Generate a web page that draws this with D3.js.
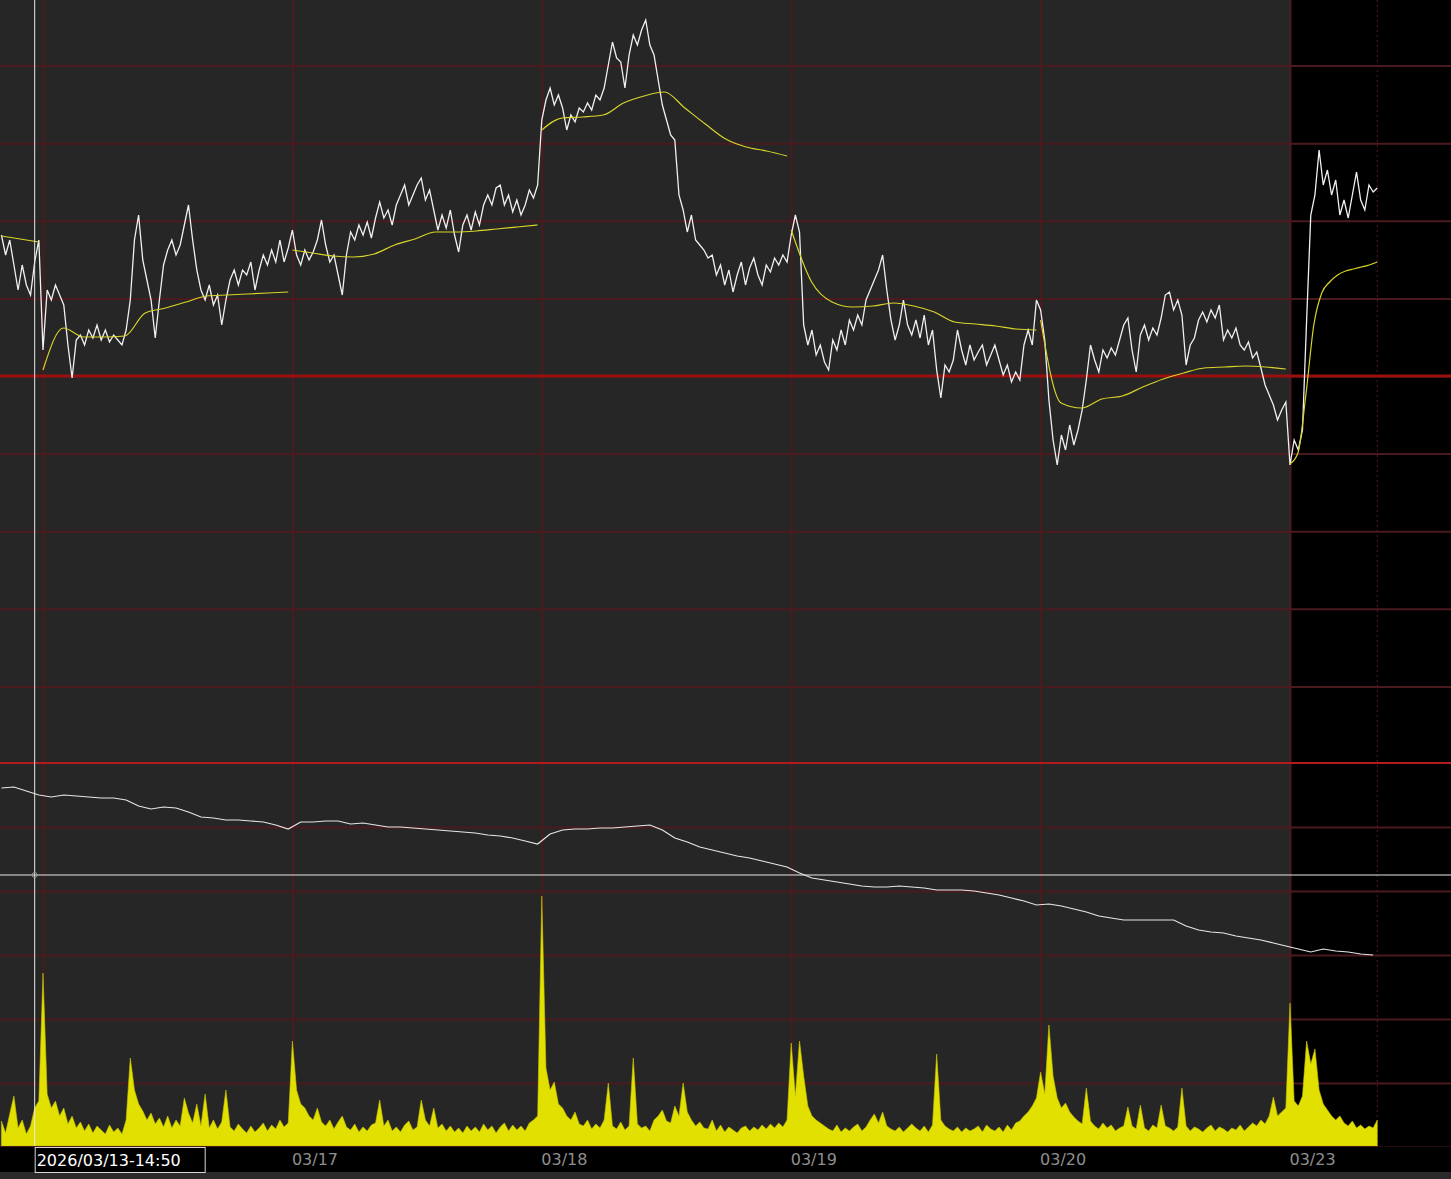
<!DOCTYPE html>
<html><head><meta charset="utf-8">
<script src="https://cdn.jsdelivr.net/npm/d3@7"></script>
<style>html,body{margin:0;padding:0;background:#262626;overflow:hidden}</style>
</head><body><svg id="c" width="1451" height="1179"></svg>
<script>
// ---------- DATA ----------
const dayLabels = ["03/17","03/18","03/19","03/20","03/23"];
const crossLabel = "2026/03/13-14:50";

const price0313 = [3070.5,3060.5,3068,3055.5,3043,3055.5,3045.5,3040.5,3057,3068];
const price0316 = [3013,3043,3038,3045.5,3040.5,3035.5,3015.5,2999,3018,3020.5,
  3015.5,3023,3019,3025.5,3018,3023,3017,3020.5,3018,3015.5,
  3023,3038,3068,3080.5,3058,3048,3038,3019,3038,3055.5,
  3063,3068,3060.5,3065.5,3075.5,3085.5,3068,3053,3043,3038,
  3045.5,3035.5,3040.5,3025.5,3038,3048,3053,3045.5,3053,3050.5,
  3057,3043,3053,3060.5,3055.5,3063,3057,3068,3057,3064];
const price0317 = [3073,3060.5,3055.5,3063,3058,3062,3068,3078,3065.5,3057,
  3060.5,3050.5,3040.5,3060.5,3072,3068,3075.5,3070.5,3077,3069,
  3079,3087,3079,3083,3075.5,3085.5,3090.5,3095.5,3085.5,3090.5,
  3095.5,3099,3088,3093,3083,3073,3080.5,3074,3083,3070.5,
  3062,3075.5,3080.5,3073,3082,3075.5,3085.5,3090.5,3085.5,3094,
  3095.5,3085.5,3090.5,3082,3088,3080.5,3085.5,3093,3089,3095.5];
const price0318 = [3128,3138,3144,3135.5,3140.5,3134,3123,3130.5,3127,3134,
  3132,3136.5,3133,3140.5,3138,3144,3155.5,3167,3159,3157,
  3144,3160.5,3170.5,3165.5,3173,3178,3165.5,3160.5,3148,3135.5,
  3128,3120.5,3118,3090.5,3083,3072,3080.5,3068,3065.5,3063,
  3059,3060.5,3050.5,3055.5,3045.5,3053,3042,3050.5,3057,3045.5,
  3054,3059,3050.5,3045.5,3055.5,3052,3059,3055.5,3060.5,3057];
const price0319 = [3070.5,3080.5,3072,3025.5,3015.5,3023,3010.5,3015.5,3007,3003,
  3018,3013,3023,3015.5,3028,3023,3030.5,3025.5,3038,3043,
  3048,3053,3060.5,3043,3028,3018,3025.5,3038,3025.5,3020.5,
  3028,3019,3030.5,3015.5,3023,3003,2989,3005.5,3002,3008,
  3023,3013,3005.5,3015.5,3008,3012,3015.5,3005.5,3010.5,3015.5,
  3008,3000.5,3005.5,2997,3002,2998,3015.5,3023,3015.5,3038];
const price0320 = [3033,3018,2988,2968,2955.5,2970.5,2963,2975.5,2965.5,2973,
  2983,2998,3015.5,3008,3002,3013,3009,3014,3010.5,3018,
  3025.5,3029,3013,3002,3020.5,3025.5,3018,3024,3020.5,3029,
  3040.5,3042,3033,3038,3030.5,3005.5,3015.5,3019,3028,3032,
  3027,3033,3029,3035.5,3018,3023,3019,3024,3015.5,3013,
  3017,3009,3012,3004,2995.5,2990.5,2985.5,2978,2983,2987];
const price0323 = [2955.5,2968,2963,2973,3028,3080.5,3090.5,3113,3095.5,3103,
  3090.5,3098,3080.5,3088,3079,3090.5,3102,3088,3083,3095.5,3092,3094];

const vwap0313 = [3070,3069,3068,3067];
const vwap0316 = [3003,3024,3019.5,3019.5,3020,3031.5,3034,3037,3040,3040.5,3041,3041.5,3042];
const vwap0317 = [3063,3061.5,3060,3059.5,3061,3065.5,3068.5,3072,3072,3072.5,3073.5,3074.5,3075.5];
const vwap0318 = [3123,3129,3129.5,3130.5,3136.5,3140,3142,3134,3126,3118.5,3114.5,3112.5,3110];
const vwap0319 = [3073,3047,3037,3034.5,3035,3036.5,3035,3032,3027,3026,3025,3023.5,3023];
const vwap0320 = [3028,2986.5,2984,2988.5,2990,2994.5,2998.5,3001.5,3004,3004.5,3005,3004.5,3003.5];
const vwap0323 = [2956,2961.5,2990.5,3025.5,3041.5,3047,3050.5,3052.5,3053.5,3054.5,3055.5,3057];

const vol0313 = [250,130,320,500,180,260,120,200,380,450];
const vol0316 = [1730,520,380,450,300,380,220,300,180,240,
  150,220,130,200,160,120,210,140,180,120,
  260,880,560,420,350,260,330,220,280,190,
  300,180,260,200,480,330,230,420,200,520,
  180,260,170,240,560,190,150,220,170,130,
  200,140,180,230,150,210,170,260,190,230];
const vol0317 = [1050,560,420,380,300,260,380,240,200,260,
  170,240,300,190,160,220,140,190,150,210,
  230,460,200,260,150,190,140,210,250,160,
  190,460,260,200,380,180,220,150,200,140,
  180,130,200,150,190,140,220,160,200,130,
  190,230,150,210,160,200,150,230,260,300];
const vol0318 = [2500,780,560,640,420,380,300,260,340,220,
  200,260,170,220,180,260,630,200,170,240,
  160,200,880,220,180,200,150,260,300,360,
  250,230,400,300,630,340,260,200,240,180,
  170,260,150,210,140,190,160,130,180,200,
  150,190,160,210,170,220,180,230,190,260];
const vol0319 = [1030,500,1050,700,400,300,260,230,200,170,
  150,210,140,180,150,190,220,150,190,260,
  320,230,340,200,170,150,190,140,180,220,
  180,150,200,140,210,920,260,200,170,150,
  190,140,180,150,170,200,140,210,170,150,
  190,140,210,160,230,250,300,340,400,480];
const vol0320 = [740,520,1210,700,480,380,430,340,290,250,
  220,580,250,200,170,230,180,210,150,180,
  200,390,200,170,410,180,150,210,180,410,
  200,180,150,190,580,200,150,190,170,140,
  180,210,150,190,170,140,180,160,210,150,
  190,230,200,260,220,300,490,300,340,380];
const vol0323 = [1430,450,400,500,1050,820,970,560,420,360,300,260,300,230,200,250,180,210,170,200,180,260];

// lower-panel indicator, one value every 3 slots starting at slot -10
const oiValues = [179.5,180,178,176,175,176,175.5,175,174.5,174.5,
  173.5,170.5,169,170,169.5,167.5,165,164.5,163.5,163.5,
  163,162.5,161,159,162.5,162.5,163,163,161.5,162,
  161,160,160,159.5,159,158.5,158,157.5,157,156,
  155.5,154.5,153,151.5,156.5,158.5,159,159,159.5,159.5,
  160,160.5,161,158.5,154.5,152.5,150,148.5,147,145.5,
  144.5,143,141.5,140,137,134.5,133.5,132.5,131.5,130.5,
  130,130,130.5,130,129.5,128.5,128.5,128.5,128,127,
  126,124.5,123,121,121.5,120.5,119,117.5,115.5,114.5,
  113.5,113.5,113.5,113.5,113.5,110.5,108.5,107.5,107,105.5,
  104.5,103.5,102,100.5,99,97.5,99,98,97.5,96.5,96];

const crossSlot = -2;
const crossOI = 136;

// ---------- SESSIONS ----------
const sessions = [
  {start:-10, price:price0313, vwap:vwap0313, vol:vol0313},
  {start:0,   price:price0316, vwap:vwap0316, vol:vol0316},
  {start:60,  price:price0317, vwap:vwap0317, vol:vol0317},
  {start:120, price:price0318, vwap:vwap0318, vol:vol0318},
  {start:180, price:price0319, vwap:vwap0319, vol:vol0319},
  {start:240, price:price0320, vwap:vwap0320, vol:vol0320},
  {start:300, price:price0323, vwap:vwap0323, vol:vol0323}
];
const dayStarts = [0,60,120,180,240,300];
const labelSlots = [60,120,180,240,300];
const lastSlot = 300 + price0323.length - 1;

// ---------- SCALES ----------
const W = 1451, H = 1179, plotBottom = 1147;
const x = d3.scaleLinear().domain([0,300]).range([43,1290]);
const yP = d3.scaleLinear().domain([2806,3188]).range([764,0]);
const yOI = d3.scaleLinear().domain([0,192]).range([1147,763]);
const yV = d3.scaleLinear().domain([0,2500]).range([1146,896]);

const svg = d3.select("#c");
const gridCol = "#4b1a1f";

svg.append("rect").attr("width",W).attr("height",H).attr("fill","#262626");
svg.append("rect").attr("x",x(300)).attr("y",0).attr("width",W-x(300)).attr("height",plotBottom).attr("fill","#000");

// horizontal grid - main panel
const priceGrid = d3.range(-4,5).map(k => 3000 + 38.8*k);
const gP = svg.append("g").call(d3.axisLeft(yP).tickValues(priceGrid).tickSize(-W).tickFormat(""));
gP.select(".domain").remove();
gP.selectAll("line").attr("stroke",gridCol).attr("stroke-width",2);
// lower panel grid
const oiGrid = d3.range(0,192,32);
const gO = svg.append("g").call(d3.axisLeft(yOI).tickValues(oiGrid).tickSize(-W).tickFormat(""));
gO.select(".domain").remove();
gO.selectAll("line").attr("stroke",gridCol).attr("stroke-width",2);
// vertical day grid
const gX = svg.append("g").attr("transform",`translate(0,${plotBottom})`)
  .call(d3.axisBottom(x).tickValues(dayStarts).tickSize(-plotBottom).tickFormat(""));
gX.select(".domain").remove();
gX.selectAll("line").attr("stroke",gridCol).attr("stroke-width",2);
// dotted end line
svg.append("line").attr("x1",x(lastSlot)).attr("x2",x(lastSlot)).attr("y1",0).attr("y2",plotBottom)
  .attr("stroke","#5a1a1a").attr("stroke-width",1).attr("stroke-dasharray","2,3");
// reference price line & separator
svg.append("line").attr("x1",0).attr("x2",W).attr("y1",yP(3000)).attr("y2",yP(3000))
  .attr("stroke","#9a1010").attr("stroke-width",3);
svg.append("line").attr("x1",0).attr("x2",W).attr("y1",yOI(192)).attr("y2",yOI(192))
  .attr("stroke","#b01c1c").attr("stroke-width",2);

// volume
const volPts = [];
sessions.forEach(s => s.vol.forEach((v,i) => volPts.push({s:s.start+i, v})));
svg.append("path").datum(volPts)
  .attr("d", d3.area().x(d=>x(d.s)).y0(yV(0)).y1(d=>yV(d.v)))
  .attr("fill","#e2e000").attr("stroke","#c8c400").attr("stroke-width",0.6);

// lower indicator line
svg.append("path").datum(oiValues)
  .attr("d", d3.line().x((d,i)=>x(-10+3*i)).y(d=>yOI(d)))
  .attr("fill","none").attr("stroke","#e6e6e6").attr("stroke-width",1.2);

// price line (continuous)
const pricePts = [];
sessions.forEach(s => s.price.forEach((p,i) => pricePts.push({s:s.start+i, p})));
svg.append("path").datum(pricePts)
  .attr("d", d3.line().x(d=>x(d.s)).y(d=>yP(d.p)))
  .attr("fill","none").attr("stroke","#f0f0f0").attr("stroke-width",1.3);

// vwap per session
sessions.forEach(s => {
  const n = s.price.length, m = s.vwap.length;
  const pts = s.vwap.map((v,k) => ({s: s.start + k*(n-1)/(m-1), v}));
  svg.append("path").datum(pts)
    .attr("d", d3.line().x(d=>x(d.s)).y(d=>yP(d.v)).curve(d3.curveMonotoneX))
    .attr("fill","none").attr("stroke","#d8d42a").attr("stroke-width",1.2);
});

// crosshair
svg.append("line").attr("x1",x(crossSlot)).attr("x2",x(crossSlot)).attr("y1",0).attr("y2",plotBottom)
  .attr("stroke","#e8e8e8").attr("stroke-width",1);
svg.append("line").attr("x1",0).attr("x2",W).attr("y1",yOI(crossOI)).attr("y2",yOI(crossOI))
  .attr("stroke","#e8e8e8").attr("stroke-width",1);
svg.append("circle").attr("cx",x(crossSlot)).attr("cy",yOI(crossOI)).attr("r",2.5)
  .attr("fill","none").attr("stroke","#999");

// axis strip
svg.append("rect").attr("x",0).attr("y",plotBottom).attr("width",W).attr("height",25).attr("fill","#000");
svg.append("rect").attr("x",0).attr("y",plotBottom+25).attr("width",W).attr("height",H-plotBottom-25).attr("fill","#2a2a2a");
svg.append("line").attr("x1",0).attr("x2",x(lastSlot)).attr("y1",plotBottom-0.5).attr("y2",plotBottom-0.5)
  .attr("stroke","#4b1a1f").attr("stroke-width",1);

const gL = svg.append("g").attr("transform",`translate(0,${plotBottom})`)
  .call(d3.axisBottom(x).tickValues(labelSlots).tickSize(0).tickPadding(7).tickFormat((d,i)=>dayLabels[i]));
gL.select(".domain").remove();
gL.selectAll("text").attr("text-anchor","start").attr("dx",-1)
  .attr("fill","#8e8e8e").style("font-family","'DejaVu Sans', sans-serif").style("font-size","16px");

// crosshair label
svg.append("rect").attr("x",x(crossSlot)+0.5).attr("y",plotBottom+0.5).attr("width",170).attr("height",25)
  .attr("fill","#000").attr("stroke","#d8d8d8").attr("stroke-width",1);
svg.append("text").attr("x",x(crossSlot)+2).attr("y",plotBottom+19)
  .attr("fill","#ffffff").style("font-family","'DejaVu Sans', sans-serif").style("font-size","16px")
  .text(crossLabel);
</script></body></html>
